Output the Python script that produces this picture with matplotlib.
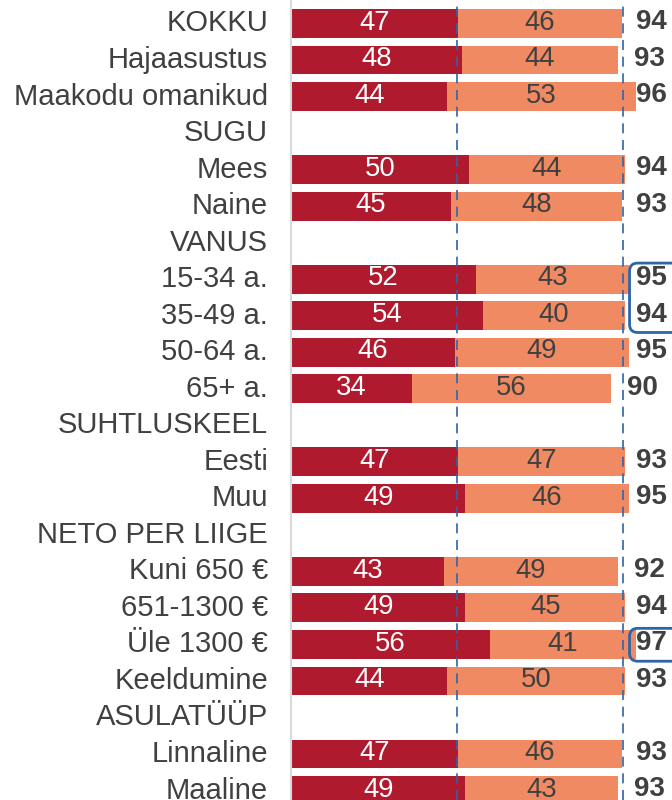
import matplotlib.pyplot as plt
from matplotlib.patches import FancyBboxPatch

plt.rcParams['font.family'] = ['Liberation Sans', 'DejaVu Sans']

labels = ["KOKKU", "Hajaasustus", "Maakodu omanikud", "SUGU", "Mees", "Naine",
          "VANUS", "15-34 a.", "35-49 a.", "50-64 a.", "65+ a.", "SUHTLUSKEEL",
          "Eesti", "Muu", "NETO PER LIIGE", "Kuni 650 €", "651-1300 €",
          "Üle 1300 €", "Keeldumine", "ASULATÜÜP", "Linnaline", "Maaline"]
# None = group header row (no bar)
red_vals = [47, 48, 44, None, 50, 45, None, 52, 54, 46, 34, None,
            47, 49, None, 43, 49, 56, 44, None, 47, 49]
salmon_vals = [46, 44, 53, None, 44, 48, None, 43, 40, 49, 56, None,
               47, 46, None, 49, 45, 41, 50, None, 46, 43]
totals = [94, 93, 96, None, 94, 93, None, 95, 94, 95, 90, None,
          93, 95, None, 92, 94, 97, 93, None, 93, 93]
kokku_red_exact = 46.7
kokku_total_exact = 93.5
# rows whose totals are highlighted (groups of consecutive rows)
highlight_groups = [[7, 8], [17]]

RED = "#AF1A2E"
SALMON = "#F08A62"
GREY = "#404040"
BLUE = "#2F64A8"

fig = plt.figure(figsize=(6.72, 8), dpi=100)
ax = fig.add_axes([291 / 672, 0, 381 / 672, 1])

rows = list(range(len(labels)))
bar_h = 0.79
for i in rows:
    r, s, t = red_vals[i], salmon_vals[i], totals[i]
    if r is None:
        continue
    ax.barh(i, r, height=bar_h, color=RED, edgecolor="none")
    ax.barh(i, s, left=r, height=bar_h, color=SALMON, edgecolor="none")
    ax.text(r / 2, i - 0.02, str(r), ha="center", va="center", color="white", fontsize=19.8)
    ax.text(r + s / 2, i - 0.02, str(s), ha="center", va="center", color=GREY, fontsize=19.8)
    ax.text(min(97, r + s + 4.5), i - 0.03, str(t), ha="left", va="center", color=GREY,
            fontsize=20, fontweight="bold", clip_on=False)

for xv in (kokku_red_exact, kokku_total_exact):
    ax.axvline(xv, color=BLUE, linestyle=(0, (6, 4)), linewidth=1.2, zorder=3)

for grp in highlight_groups:
    y0 = min(grp) - 0.44
    y1 = max(grp) + 0.46
    box = FancyBboxPatch((95.2, y0), 40, y1 - y0,
                         boxstyle="round,pad=0,rounding_size=2.3",
                         mutation_aspect=0.097, facecolor="none",
                         edgecolor=BLUE, linewidth=2, zorder=4, clip_on=False)
    ax.add_patch(box)

ax.set_xlim(0, 381 / 3.556)
ax.set_ylim(21.26, -0.643)
ax.set_yticks(rows)
ax.set_yticklabels(labels, fontsize=21, color=GREY)
for lab in ax.get_yticklabels():
    lab.set_va("center")
ax.tick_params(axis="y", length=0, pad=16.5)
ax.set_xticks([])
for side in ("top", "right", "bottom"):
    ax.spines[side].set_visible(False)
ax.spines["left"].set_color("#D9D9D9")
ax.spines["left"].set_linewidth(1.5)

fig.savefig("out.png", dpi=100)
plt.close(fig)
